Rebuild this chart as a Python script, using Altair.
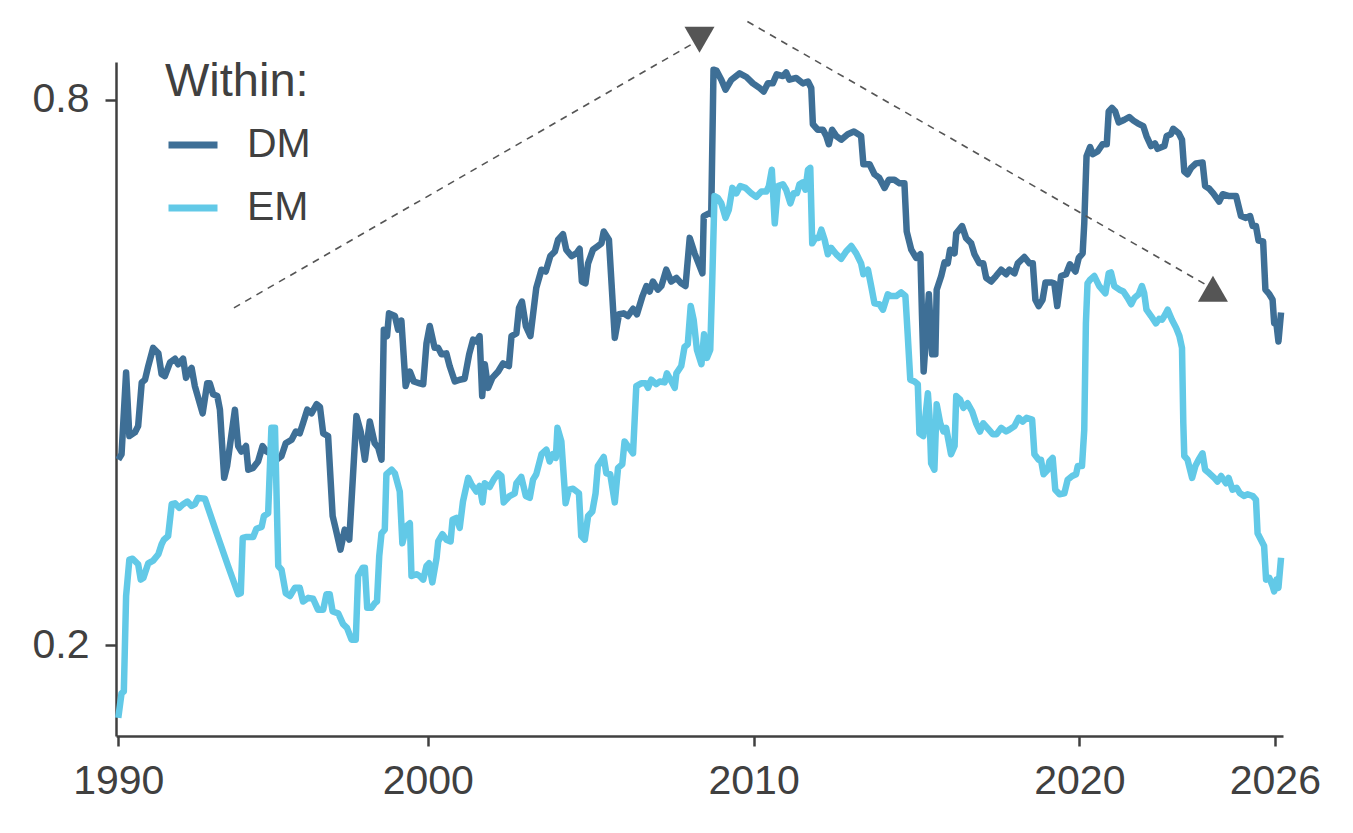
import pandas as pd
import altair as alt

# DM line: year, value
dm_year = [
    1990.50, 1990.60, 1990.74, 1990.84, 1991.01, 1991.11, 1991.22, 1991.32, 1991.42, 1991.57,
    1991.73, 1991.83, 1991.93, 1992.09, 1992.24, 1992.34, 1992.49, 1992.58, 1992.65, 1992.75,
    1992.85, 1993.09, 1993.23, 1993.31, 1993.41, 1993.54, 1993.62, 1993.75, 1993.84, 1994.08,
    1994.18, 1994.28, 1994.42, 1994.49, 1994.64, 1994.79, 1994.93, 1995.05, 1995.20, 1995.36,
    1995.51, 1995.64, 1995.82, 1995.95, 1996.07, 1996.17, 1996.30, 1996.43, 1996.59, 1996.69,
    1996.79, 1996.94, 1997.08, 1997.18, 1997.32, 1997.45, 1997.59, 1997.81, 1997.94, 1998.07,
    1998.22, 1998.37, 1998.48, 1998.58, 1998.65, 1998.75, 1998.81, 1998.99, 1999.09, 1999.19,
    1999.32, 1999.45, 1999.57, 1999.75, 1999.86, 1999.96, 2000.06, 2000.21, 2000.32, 2000.42,
    2000.57, 2000.67, 2000.83, 2000.98, 2001.13, 2001.27, 2001.39, 2001.49, 2001.59, 2001.67,
    2001.75, 2001.85, 2001.98, 2002.16, 2002.31, 2002.49, 2002.57, 2002.72, 2002.80, 2002.89,
    2003.01, 2003.15, 2003.33, 2003.49, 2003.62, 2003.76, 2003.90, 2004.00, 2004.15, 2004.25,
    2004.41, 2004.56, 2004.66, 2004.73, 2004.84, 2004.92, 2005.07, 2005.22, 2005.33, 2005.40,
    2005.56, 2005.74, 2005.87, 2006.01, 2006.14, 2006.30, 2006.42, 2006.59, 2006.71, 2006.81,
    2006.91, 2007.06, 2007.17, 2007.32, 2007.47, 2007.63, 2007.78, 2007.91, 2008.04, 2008.19,
    2008.43, 2008.47, 2008.63, 2008.70, 2008.77, 2008.86, 2009.01, 2009.14, 2009.32, 2009.57,
    2009.78, 2009.98, 2010.18, 2010.31, 2010.44, 2010.59, 2010.71, 2010.90, 2011.00, 2011.10,
    2011.31, 2011.51, 2011.67, 2011.77, 2011.82, 2011.97, 2012.13, 2012.23, 2012.31, 2012.41,
    2012.54, 2012.69, 2012.89, 2013.08, 2013.30, 2013.37, 2013.56, 2013.71, 2013.86, 2014.02,
    2014.15, 2014.32, 2014.48, 2014.63, 2014.70, 2014.84, 2014.99, 2015.12, 2015.17, 2015.22,
    2015.30, 2015.38, 2015.48, 2015.58, 2015.62, 2015.76, 2015.86, 2015.96, 2016.03, 2016.17,
    2016.22, 2016.40, 2016.52, 2016.68, 2016.78, 2016.93, 2017.05, 2017.14, 2017.29, 2017.44,
    2017.60, 2017.75, 2017.85, 2018.01, 2018.11, 2018.31, 2018.47, 2018.57, 2018.65, 2018.75,
    2018.87, 2018.96, 2019.13, 2019.23, 2019.32, 2019.44, 2019.59, 2019.71, 2019.88, 2019.98,
    2020.10, 2020.15, 2020.22, 2020.33, 2020.41, 2020.56, 2020.71, 2020.84, 2020.90, 2021.00,
    2021.10, 2021.21, 2021.38, 2021.53, 2021.66, 2021.79, 2021.96, 2022.06, 2022.20, 2022.32,
    2022.40, 2022.61, 2022.68, 2022.81, 2022.88, 2023.05, 2023.15, 2023.22, 2023.32, 2023.43,
    2023.58, 2023.78, 2023.86, 2023.99, 2024.11, 2024.29, 2024.40, 2024.60, 2024.81, 2024.96,
    2025.11, 2025.24, 2025.32, 2025.42, 2025.50, 2025.64, 2025.71, 2025.83, 2025.93, 2025.98,
    2026.05, 2026.11, 2026.19,
]
dm_value = [
    0.404, 0.410, 0.500, 0.430, 0.434, 0.441, 0.489, 0.492, 0.507, 0.527,
    0.521, 0.498, 0.496, 0.511, 0.515, 0.509, 0.515, 0.494, 0.500, 0.505,
    0.485, 0.455, 0.488, 0.488, 0.476, 0.474, 0.459, 0.384, 0.397, 0.459,
    0.419, 0.413, 0.419, 0.393, 0.395, 0.402, 0.419, 0.413, 0.410, 0.404,
    0.408, 0.422, 0.426, 0.435, 0.433, 0.444, 0.459, 0.455, 0.465, 0.462,
    0.433, 0.430, 0.342, 0.327, 0.305, 0.327, 0.316, 0.452, 0.435, 0.404,
    0.446, 0.422, 0.417, 0.404, 0.547, 0.540, 0.565, 0.562, 0.547, 0.557,
    0.485, 0.501, 0.490, 0.488, 0.487, 0.532, 0.551, 0.527, 0.527, 0.520,
    0.521, 0.507, 0.490, 0.492, 0.493, 0.520, 0.536, 0.534, 0.540, 0.474,
    0.509, 0.483, 0.494, 0.501, 0.510, 0.507, 0.540, 0.543, 0.571, 0.578,
    0.551, 0.540, 0.593, 0.613, 0.611, 0.628, 0.633, 0.646, 0.652, 0.635,
    0.628, 0.631, 0.636, 0.600, 0.598, 0.620, 0.635, 0.639, 0.642, 0.655,
    0.646, 0.538, 0.564, 0.565, 0.562, 0.570, 0.564, 0.584, 0.595, 0.589,
    0.600, 0.591, 0.595, 0.613, 0.600, 0.604, 0.598, 0.595, 0.648, 0.631,
    0.609, 0.672, 0.675, 0.674, 0.833, 0.832, 0.822, 0.811, 0.822, 0.829,
    0.825, 0.818, 0.813, 0.809, 0.818, 0.818, 0.828, 0.826, 0.830, 0.822,
    0.824, 0.818, 0.820, 0.813, 0.773, 0.767, 0.767, 0.760, 0.751, 0.767,
    0.760, 0.756, 0.762, 0.765, 0.760, 0.729, 0.729, 0.718, 0.714, 0.703,
    0.712, 0.712, 0.708, 0.708, 0.655, 0.635, 0.626, 0.630, 0.562, 0.501,
    0.543, 0.586, 0.520, 0.520, 0.591, 0.606, 0.621, 0.620, 0.635, 0.631,
    0.653, 0.661, 0.648, 0.642, 0.630, 0.620, 0.620, 0.604, 0.600, 0.606,
    0.613, 0.608, 0.613, 0.609, 0.620, 0.627, 0.620, 0.620, 0.580, 0.573,
    0.580, 0.599, 0.599, 0.598, 0.573, 0.606, 0.608, 0.619, 0.611, 0.626,
    0.631, 0.664, 0.738, 0.748, 0.740, 0.743, 0.751, 0.751, 0.787, 0.791,
    0.787, 0.775, 0.778, 0.781, 0.777, 0.774, 0.771, 0.760, 0.749, 0.752,
    0.746, 0.749, 0.760, 0.762, 0.768, 0.763, 0.756, 0.721, 0.718, 0.725,
    0.730, 0.731, 0.705, 0.702, 0.697, 0.688, 0.696, 0.694, 0.694, 0.672,
    0.670, 0.672, 0.661, 0.661, 0.645, 0.644, 0.591, 0.586, 0.580, 0.554,
    0.553, 0.534, 0.566,
]

# EM line: year, value
em_year = [
    1990.50, 1990.60, 1990.67, 1990.74, 1990.84, 1990.94, 1991.11, 1991.19, 1991.27, 1991.42,
    1991.57, 1991.73, 1991.83, 1991.90, 1992.03, 1992.14, 1992.24, 1992.37, 1992.49, 1992.62,
    1992.75, 1992.85, 1992.95, 1993.16, 1993.52, 1993.87, 1994.18, 1994.26, 1994.32, 1994.44,
    1994.64, 1994.74, 1994.90, 1994.97, 1995.10, 1995.20, 1995.31, 1995.41, 1995.51, 1995.64,
    1995.77, 1995.92, 1996.07, 1996.17, 1996.33, 1996.48, 1996.63, 1996.79, 1996.89, 1996.99,
    1997.08, 1997.25, 1997.40, 1997.52, 1997.66, 1997.79, 1997.86, 1998.00, 1998.07, 1998.14,
    1998.27, 1998.37, 1998.44, 1998.51, 1998.58, 1998.68, 1998.73, 1998.89, 1998.99, 1999.14,
    1999.22, 1999.35, 1999.45, 1999.50, 1999.65, 1999.75, 1999.86, 1999.96, 2000.04, 2000.14,
    2000.27, 2000.32, 2000.45, 2000.57, 2000.70, 2000.76, 2000.88, 2000.98, 2001.08, 2001.24,
    2001.34, 2001.49, 2001.59, 2001.68, 2001.75, 2001.90, 2002.02, 2002.16, 2002.26, 2002.33,
    2002.51, 2002.67, 2002.72, 2002.87, 2003.01, 2003.13, 2003.23, 2003.33, 2003.49, 2003.64,
    2003.74, 2003.84, 2003.93, 2003.98, 2004.10, 2004.23, 2004.33, 2004.46, 2004.64, 2004.71,
    2004.82, 2004.92, 2005.05, 2005.15, 2005.22, 2005.40, 2005.48, 2005.60, 2005.74, 2005.84,
    2005.97, 2006.04, 2006.14, 2006.30, 2006.40, 2006.55, 2006.69, 2006.76, 2006.86, 2007.01,
    2007.12, 2007.27, 2007.34, 2007.42, 2007.58, 2007.63, 2007.78, 2007.88, 2007.98, 2008.07,
    2008.16, 2008.26, 2008.40, 2008.48, 2008.57, 2008.67, 2008.73, 2008.80, 2008.90, 2009.01,
    2009.14, 2009.24, 2009.35, 2009.47, 2009.59, 2009.75, 2009.93, 2010.08, 2010.24, 2010.39,
    2010.47, 2010.56, 2010.65, 2010.75, 2010.90, 2011.00, 2011.13, 2011.23, 2011.33, 2011.41,
    2011.51, 2011.59, 2011.67, 2011.74, 2011.80, 2011.90, 2012.00, 2012.08, 2012.18, 2012.28,
    2012.38, 2012.54, 2012.69, 2012.84, 2013.00, 2013.15, 2013.30, 2013.37, 2013.51, 2013.61,
    2013.71, 2013.86, 2013.97, 2014.12, 2014.22, 2014.38, 2014.53, 2014.66, 2014.73, 2014.81,
    2014.94, 2015.04, 2015.09, 2015.21, 2015.35, 2015.40, 2015.45, 2015.55, 2015.62, 2015.73,
    2015.83, 2015.91, 2016.06, 2016.17, 2016.22, 2016.34, 2016.44, 2016.57, 2016.71, 2016.83,
    2016.95, 2017.05, 2017.22, 2017.34, 2017.46, 2017.60, 2017.75, 2017.85, 2018.01, 2018.14,
    2018.26, 2018.38, 2018.55, 2018.62, 2018.75, 2018.82, 2018.90, 2019.03, 2019.08, 2019.18,
    2019.26, 2019.39, 2019.54, 2019.64, 2019.78, 2019.90, 2019.95, 2020.08, 2020.15, 2020.20,
    2020.25, 2020.33, 2020.46, 2020.61, 2020.80, 2020.90, 2020.97, 2021.07, 2021.23, 2021.35,
    2021.48, 2021.59, 2021.69, 2021.82, 2021.92, 2021.99, 2022.06, 2022.20, 2022.35, 2022.45,
    2022.54, 2022.64, 2022.71, 2022.84, 2022.97, 2023.07, 2023.15, 2023.19, 2023.22, 2023.32,
    2023.46, 2023.56, 2023.66, 2023.78, 2023.86, 2023.99, 2024.14, 2024.24, 2024.35, 2024.50,
    2024.58, 2024.70, 2024.83, 2024.93, 2025.06, 2025.16, 2025.32, 2025.42, 2025.47, 2025.60,
    2025.67, 2025.73, 2025.83, 2025.93, 2025.98, 2026.05, 2026.11, 2026.19,
]
em_value = [
    0.120, 0.147, 0.149, 0.254, 0.294, 0.295, 0.289, 0.272, 0.274, 0.290,
    0.293, 0.300, 0.311, 0.316, 0.320, 0.355, 0.356, 0.351, 0.355, 0.358,
    0.353, 0.355, 0.362, 0.361, 0.323, 0.287, 0.256, 0.257, 0.318, 0.319,
    0.319, 0.328, 0.330, 0.342, 0.345, 0.439, 0.439, 0.287, 0.283, 0.257,
    0.254, 0.263, 0.263, 0.248, 0.252, 0.251, 0.239, 0.239, 0.256, 0.256,
    0.237, 0.235, 0.223, 0.219, 0.206, 0.206, 0.276, 0.285, 0.285, 0.241,
    0.241, 0.246, 0.248, 0.298, 0.323, 0.327, 0.388, 0.393, 0.389, 0.369,
    0.312, 0.331, 0.334, 0.276, 0.278, 0.276, 0.272, 0.287, 0.290, 0.269,
    0.296, 0.314, 0.322, 0.316, 0.314, 0.338, 0.340, 0.329, 0.358, 0.384,
    0.377, 0.369, 0.375, 0.357, 0.378, 0.374, 0.382, 0.389, 0.386, 0.357,
    0.364, 0.367, 0.378, 0.385, 0.364, 0.362, 0.382, 0.388, 0.410, 0.415,
    0.402, 0.410, 0.406, 0.439, 0.424, 0.356, 0.371, 0.372, 0.367, 0.320,
    0.316, 0.342, 0.347, 0.367, 0.397, 0.407, 0.389, 0.388, 0.357, 0.395,
    0.399, 0.424, 0.419, 0.411, 0.485, 0.488, 0.488, 0.483, 0.492, 0.487,
    0.490, 0.489, 0.499, 0.494, 0.483, 0.499, 0.507, 0.528, 0.531, 0.573,
    0.558, 0.525, 0.509, 0.542, 0.516, 0.525, 0.599, 0.694, 0.692, 0.686,
    0.670, 0.679, 0.703, 0.697, 0.705, 0.703, 0.697, 0.693, 0.699, 0.699,
    0.705, 0.723, 0.664, 0.705, 0.707, 0.701, 0.686, 0.697, 0.697, 0.707,
    0.709, 0.701, 0.723, 0.725, 0.642, 0.648, 0.648, 0.657, 0.646, 0.630,
    0.637, 0.630, 0.625, 0.633, 0.639, 0.631, 0.620, 0.608, 0.613, 0.595,
    0.576, 0.575, 0.569, 0.586, 0.584, 0.584, 0.588, 0.584, 0.542, 0.492,
    0.490, 0.487, 0.433, 0.430, 0.477, 0.452, 0.400, 0.393, 0.465, 0.444,
    0.435, 0.439, 0.410, 0.419, 0.474, 0.470, 0.461, 0.466, 0.457, 0.444,
    0.435, 0.444, 0.437, 0.432, 0.432, 0.439, 0.435, 0.437, 0.441, 0.450,
    0.446, 0.450, 0.448, 0.410, 0.404, 0.404, 0.388, 0.393, 0.402, 0.406,
    0.371, 0.366, 0.367, 0.382, 0.386, 0.388, 0.397, 0.397, 0.437, 0.554,
    0.598, 0.602, 0.606, 0.595, 0.587, 0.609, 0.610, 0.595, 0.591, 0.589,
    0.582, 0.575, 0.582, 0.586, 0.595, 0.587, 0.569, 0.562, 0.554, 0.559,
    0.558, 0.564, 0.569, 0.558, 0.549, 0.540, 0.527, 0.444, 0.408, 0.404,
    0.384, 0.397, 0.404, 0.411, 0.393, 0.389, 0.384, 0.380, 0.386, 0.378,
    0.384, 0.371, 0.373, 0.367, 0.364, 0.366, 0.364, 0.360, 0.323, 0.314,
    0.309, 0.272, 0.274, 0.265, 0.259, 0.272, 0.263, 0.296,
]

# dashed arrows (start -> head), in data units
arrow_x0 = [1994.05, 2009.81]
arrow_y0 = [0.571, 0.886]
arrow_x1 = [2008.34, 2024.10]
arrow_y1 = [0.866, 0.592]
arrow_head = ["triangle-down", "triangle-up"]

x_ticks = [1990.5, 2000, 2010, 2020, 2026]
y_ticks = [0.2, 0.8]

ink = "#404040"
font = "Liberation Sans"

lines = pd.DataFrame({
    "year": dm_year + em_year,
    "value": dm_value + em_value,
    "region": ["DM"] * len(dm_year) + ["EM"] * len(em_year),
})
arrows = pd.DataFrame({
    "x0": arrow_x0, "y0": arrow_y0,
    "x1": arrow_x1, "y1": arrow_y1,
    "head": arrow_head,
})

x_scale = alt.Scale(domain=[1990.43, 2026.25], nice=False, zero=False)
y_scale = alt.Scale(domain=[0.1, 0.8415], nice=False, zero=False)
x_axis = alt.Axis(values=x_ticks, labelExpr="'' + floor(datum.value)",
                  title=None, labelFlush=False, labelOverlap=False)
y_axis = alt.Axis(values=y_ticks, format=".1f", title=None, labelPadding=16,
                  tickSize=11)

series = alt.Chart(lines).mark_line(strokeWidth=6.5, strokeJoin="round").encode(
    x=alt.X("year:Q", scale=x_scale, axis=x_axis),
    y=alt.Y("value:Q", scale=y_scale, axis=y_axis),
    color=alt.Color(
        "region:N",
        scale=alt.Scale(domain=["DM", "EM"], range=["#3e6f96", "#62c9e7"]),
        legend=alt.Legend(
            title="Within:", orient="none", legendX=49, legendY=-3,
            symbolType="stroke", symbolSize=2401, symbolStrokeWidth=7,
            labelFontSize=41, titleFontSize=47, titleFontWeight="normal",
            labelFont=font, titleFont=font, labelColor=ink, titleColor=ink,
            rowPadding=15, titlePadding=11, labelOffset=26, padding=0,
        ),
    ),
)

dashes = alt.Chart(arrows).mark_rule(
    strokeDash=[7, 6], strokeWidth=1.6, color="#555555"
).encode(
    x=alt.X("x0:Q", scale=x_scale, axis=x_axis),
    y=alt.Y("y0:Q", scale=y_scale, axis=y_axis),
    x2="x1:Q",
    y2="y1:Q",
)

heads = alt.Chart(arrows).mark_point(
    filled=True, size=900, opacity=1, color="#555555"
).encode(
    x=alt.X("x1:Q", scale=x_scale, axis=x_axis),
    y=alt.Y("y1:Q", scale=y_scale, axis=y_axis),
    shape=alt.Shape("head:N", scale=alt.Scale(domain=arrow_head, range=arrow_head),
                    legend=None),
)

chart = alt.layer(series, dashes, heads).properties(
    width=1167,
    height=674,
    autosize=alt.AutoSizeParams(type="none"),
    padding={"left": 108, "top": 54, "right": 62, "bottom": 80},
).configure_view(
    stroke=None
).configure_axis(
    grid=False,
    domainColor=ink,
    domainWidth=2.5,
    tickColor=ink,
    tickWidth=2.5,
    tickSize=10,
    labelColor=ink,
    labelFont=font,
    labelFontSize=41,
    labelPadding=15,
)

chart.save("out.html", embed_options={"renderer": "svg", "actions": False})
